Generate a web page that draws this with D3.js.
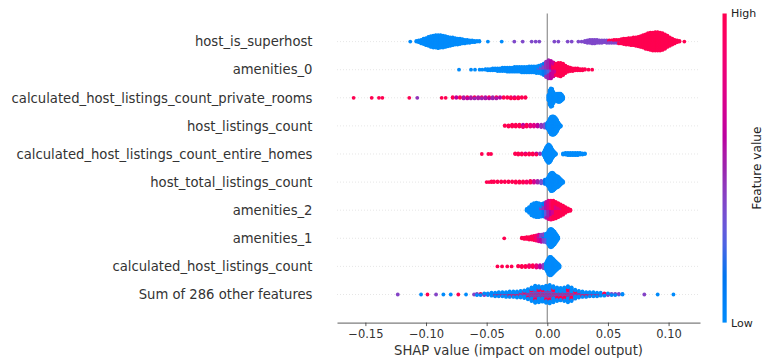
<!DOCTYPE html>
<html>
<head>
<meta charset="utf-8">
<script src="https://cdn.jsdelivr.net/npm/d3@7"></script>
<style>
  html, body { margin: 0; padding: 0; background: #fff; }
  svg { display: block; font-family: "DejaVu Sans", sans-serif; }
</style>
</head>
<body>
<svg id="chart" width="765" height="361"></svg>
<script>
// Feature rows, listed top to bottom
const featureNames = [
  "host_is_superhost",
  "amenities_0",
  "calculated_host_listings_count_private_rooms",
  "host_listings_count",
  "calculated_host_listings_count_entire_homes",
  "host_total_listings_count",
  "amenities_2",
  "amenities_1",
  "calculated_host_listings_count",
  "Sum of 286 other features"
];
const xTicks = [-0.15, -0.10, -0.05, 0.00, 0.05, 0.10];
const colorLabels = ["Low", "High"];
const axisTitle = "SHAP value (impact on model output)";
const colorTitle = "Feature value";

// Each entry: [SHAP value, number of samples at that value, feature value 0 (low) .. 1 (high)]
const hostIsSuperhost = [
  [-0.113,1,0],
  [-0.108,2,0],[-0.106,4,0],[-0.104,7,0],[-0.102,10,0],[-0.100,13,0],[-0.098,16,0],[-0.096,19,0],
  [-0.094,21,0],[-0.092,22,0],[-0.090,23,0],[-0.088,22,0],[-0.086,21,0],[-0.084,19,0],[-0.082,17,0],
  [-0.080,15,0],[-0.078,14,0],[-0.076,12,0],[-0.074,11,0],[-0.072,10,0],[-0.070,8,0],[-0.068,7,0],
  [-0.066,6,0],[-0.064,5,0],[-0.062,4,0],[-0.060,3,0],[-0.058,2,0],[-0.056,2,0],
  [-0.049,1,0],[-0.0376,1,0],
  [-0.0272,1,0.38],[-0.0203,1,0.38],[-0.0129,1,0.38],[-0.0096,1,0.38],[-0.0066,1,0.38],
  [0.0058,1,0.38],[0.0091,1,0.38],[0.0168,1,0.38],[0.0201,1,0.38],[0.0256,1,0.38],[0.0283,1,0.38],
  [0.031,3,0.38],[0.033,5,0.38],[0.035,6,0.38],[0.037,7,0.38],[0.039,7,0.38],[0.041,6,0.38],
  [0.043,5,0.38],[0.045,5,0.38],[0.047,4,0.38],[0.049,5,0.38],
  [0.051,3,0.38],[0.051,2,1],[0.053,3,0.38],[0.053,2,1],[0.055,3,0.38],[0.055,3,1],
  [0.057,3,0.38],[0.057,3,1],[0.059,3,0.38],[0.059,4,1],[0.061,2,0.38],[0.061,6,1],
  [0.063,10,1],[0.065,11,1],[0.067,12,1],[0.069,13,1],[0.071,14,1],[0.073,15,1],[0.075,17,1],
  [0.077,19,1],[0.079,22,1],[0.081,25,1],[0.083,28,1],[0.085,30,1],[0.087,31,1],[0.089,32,1],
  [0.091,32,1],[0.093,31,1],[0.095,29,1],[0.097,25,1],[0.099,20,1],[0.101,15,1],[0.103,11,1],
  [0.105,7,1],[0.107,4,1],[0.109,2,1],[0.113,1,1]
];

const amenities0 = [
  [-0.0728,1,0],[-0.0629,1,0],[-0.0596,1,0],[-0.0558,1,0],[-0.0536,1,0],
  [-0.051,2,0],[-0.049,3,0],[-0.047,3,0],[-0.045,4,0],[-0.043,4,0],[-0.041,5,0],[-0.039,5,0],
  [-0.037,6,0],[-0.035,6,0],[-0.033,7,0],[-0.031,7,0],[-0.029,7,0],[-0.027,8,0],[-0.025,8,0],
  [-0.023,8,0],[-0.021,9,0],[-0.019,9,0],[-0.017,9,0],[-0.015,10,0],[-0.013,10,0],[-0.011,10,0],
  [-0.009,11,0],
  [-0.007,9,0],[-0.007,3,0.35],
  [-0.005,9,0],[-0.005,5,0.35],
  [-0.003,10,0.1],[-0.003,8,0.4],
  [-0.001,10,0.2],[-0.001,14,0.45],
  [0.001,8,0.25],[0.001,20,0.5],
  [0.003,6,0.4],[0.003,21,0.6],
  [0.005,14,0.65],[0.005,8,1],
  [0.007,8,0.7],[0.007,10,1],
  [0.009,20,1],[0.011,21,1],[0.013,18,1],[0.015,12,1],[0.017,8,1],[0.019,6,1],[0.021,5,1],
  [0.023,4,1],[0.025,4,1],[0.027,3,1],[0.029,3,1],[0.031,2,1],[0.034,1,1],[0.037,1,1]
];

const calcPrivateRooms = [
  [-0.1597,1,1],[-0.1448,1,1],[-0.1388,1,1],[-0.1360,1,1],[-0.1138,1,1],[-0.1072,1,0.45],
  [-0.0871,1,1],[-0.0838,1,1],
  [-0.078,2,1],[-0.075,2,0.6],[-0.072,2,1],[-0.069,3,0.55],[-0.066,2,0.6],[-0.066,1,1],
  [-0.063,3,0.55],[-0.060,2,0.5],[-0.060,1,1],[-0.057,3,0.55],[-0.054,2,0.5],[-0.054,1,0.9],
  [-0.051,3,0.55],[-0.048,2,0.6],[-0.048,1,1],[-0.045,3,0.5],[-0.042,2,0.55],[-0.042,1,1],
  [-0.039,2,0.6],[-0.036,2,1],[-0.033,2,1],[-0.030,3,1],[-0.027,2,1],[-0.027,1,0.7],
  [-0.024,3,1],[-0.021,2,1],[-0.018,2,1],
  [0.001,10,0],[0.002,26,0],[0.003,32,0],[0.004,30,0],[0.005,20,0],[0.006,12,0],[0.007,12,0],
  [0.008,14,0],[0.009,15,0],[0.010,15,0],[0.011,14,0],[0.012,10,0],[0.013,5,0]
];

const hostListingsCount = [
  [-0.035,2,1],[-0.032,3,1],[-0.029,4,1],[-0.026,3,1],[-0.026,1,0.6],[-0.023,4,1],
  [-0.020,3,0.85],[-0.020,2,0.6],[-0.017,4,1],[-0.014,3,0.8],[-0.014,1,0.55],[-0.011,4,0.75],
  [-0.008,3,0.6],[-0.008,1,1],[-0.005,5,0.45],[-0.002,7,0.35],
  [0.000,10,0.1],[0.001,16,0],[0.002,24,0],[0.003,30,0],[0.004,32,0],[0.005,32,0],[0.006,30,0],
  [0.007,26,0],[0.008,20,0],[0.009,12,0],[0.010,6,0],[0.011,3,0]
];

const calcEntireHomes = [
  [-0.054,1,1],[-0.0486,1,1],[-0.0464,1,1],
  [-0.0265,2,1],[-0.024,3,1],[-0.021,3,1],[-0.018,2,1],[-0.018,1,0.7],[-0.015,3,1],[-0.012,3,1],
  [-0.009,2,1],[-0.009,1,0.6],[-0.006,2,0.45],
  [-0.003,6,0],[-0.002,14,0],[-0.001,22,0],[0.000,28,0],[0.001,32,0],[0.002,30,0],[0.003,24,0],
  [0.004,16,0],[0.005,10,0],[0.006,6,0],[0.007,3,0],
  [0.013,3,0],[0.015,4,0],[0.017,5,0],[0.019,5,0],[0.021,5,0],[0.023,5,0],[0.025,5,0],
  [0.027,4,0],[0.029,3,0],[0.031,2,0]
];

const hostTotalListingsCount = [
  [-0.050,1,1],[-0.048,1,1],[-0.046,2,1],[-0.044,2,1],[-0.041,2,1],[-0.038,2,1],[-0.035,2,1],
  [-0.032,2,1],[-0.029,2,1],[-0.026,3,1],[-0.023,3,1],[-0.020,3,1],[-0.017,3,0.9],
  [-0.014,3,1],[-0.014,1,0.6],[-0.011,3,0.7],[-0.011,1,1],[-0.008,4,0.5],[-0.005,4,0.35],
  [-0.005,1,0.8],[-0.002,8,0.15],
  [0.000,12,0],[0.001,18,0],[0.002,26,0],[0.003,31,0],[0.004,32,0],[0.005,30,0],[0.006,26,0],
  [0.007,22,0],[0.008,20,0],[0.009,18,0],[0.010,14,0],[0.011,10,0],[0.012,6,0],[0.013,3,0]
];

const amenities2 = [
  [-0.017,4,0],[-0.015,10,0],[-0.013,18,0],[-0.011,22,0],[-0.009,24,0],[-0.007,23,0],
  [-0.005,16,0],[-0.005,5,0.4],
  [-0.003,14,0.1],[-0.003,8,0.45],
  [-0.001,12,0.3],[-0.001,14,0.55],
  [0.001,14,0.5],[0.001,16,0.75],
  [0.003,12,0.6],[0.003,19,0.9],
  [0.005,10,0.7],[0.005,20,1],
  [0.007,18,1],[0.007,9,0.75],[0.009,16,1],[0.009,7,0.8],[0.011,14,1],[0.011,5,0.8],
  [0.013,15,1],[0.015,10,1],[0.017,6,1],[0.019,3,1]
];

const amenities1 = [
  [-0.0355,1,1],
  [-0.021,2,1],[-0.019,3,1],[-0.017,4,1],[-0.015,5,1],[-0.013,6,1],[-0.011,7,1],[-0.011,1,0.7],
  [-0.009,8,0.9],[-0.009,2,0.6],[-0.007,8,0.7],[-0.007,4,0.5],[-0.005,7,0.6],[-0.005,6,0.4],
  [-0.003,10,0.4],[-0.003,4,0.1],[-0.001,8,0.3],[-0.001,8,0],
  [0.001,24,0],[0.002,30,0],[0.003,32,0],[0.004,30,0],[0.005,26,0],[0.006,22,0],[0.007,16,0],
  [0.008,10,0],[0.009,4,0]
];

const calcHostListingsCount = [
  [-0.0411,1,1],[-0.0373,1,1],[-0.033,1,1],[-0.0294,1,1],
  [-0.024,2,1],[-0.021,3,1],[-0.018,3,1],[-0.015,3,0.9],[-0.015,1,0.6],[-0.012,4,1],
  [-0.009,4,0.8],[-0.009,1,1],[-0.006,5,0.6],[-0.003,7,0.4],
  [-0.001,12,0],[0.000,20,0],[0.001,28,0],[0.002,32,0],[0.003,32,0],[0.004,28,0],[0.005,24,0],
  [0.006,20,0],[0.007,16,0],[0.008,12,0],[0.009,8,0],[0.010,5,0]
];

const otherFeatures = [
  [-0.1233,1,0.4],[-0.1041,1,0],[-0.0988,1,1],[-0.0917,1,0.4],[-0.0857,1,0],[-0.0796,1,0],
  [-0.0734,1,1],[-0.067,1,0],[-0.0604,1,0.4],
  [-0.058,2,0],[-0.058,1,0.4],
  [-0.055,2,0],[-0.055,1,1],
  [-0.052,2,0],[-0.052,1,1],[-0.052,1,0.4],
  [-0.049,3,0],[-0.049,1,1],
  [-0.046,4,0],[-0.046,1,1],[-0.046,1,0.4],
  [-0.043,4,0],[-0.043,2,1],[-0.043,1,0.4],
  [-0.040,5,0],[-0.040,2,1],[-0.040,1,0.4],
  [-0.037,5,0],[-0.037,2,1],[-0.037,1,0.4],
  [-0.034,6,0],[-0.034,2,1],[-0.034,1,0.4],
  [-0.031,6,0],[-0.031,3,1],[-0.031,1,0.4],
  [-0.028,6,0],[-0.028,3,1],[-0.028,1,0.4],
  [-0.025,7,0],[-0.025,3,1],[-0.025,1,0.4],
  [-0.022,7,0],[-0.022,3,1],[-0.022,2,0.4],
  [-0.019,8,0],[-0.019,4,1],[-0.019,2,0.4],
  [-0.016,10,0],[-0.016,5,1],[-0.016,3,0.4],
  [-0.013,14,0],[-0.013,6,1],[-0.013,4,0.4],
  [-0.010,17,0],[-0.010,8,1],[-0.010,5,0.4],
  [-0.007,16,0],[-0.007,8,1],[-0.007,4,0.4],
  [-0.004,15,0],[-0.004,7,1],[-0.004,4,0.4],
  [-0.001,17,0],[-0.001,8,1],[-0.001,5,0.4],
  [0.002,18,0],[0.002,9,1],[0.002,5,0.4],
  [0.005,16,0],[0.005,8,1],[0.005,4,0.4],
  [0.008,14,0],[0.008,7,1],[0.008,3,0.4],
  [0.011,12,0],[0.011,7,1],[0.011,3,0.4],
  [0.014,13,0],[0.014,8,1],[0.014,3,0.4],
  [0.017,15,0],[0.017,9,1],[0.017,4,0.4],
  [0.020,13,0],[0.020,8,1],[0.020,3,0.4],
  [0.023,9,0],[0.023,5,1],[0.023,2,0.4],
  [0.026,7,0],[0.026,3,1],[0.026,2,0.4],
  [0.029,6,0],[0.029,3,1],[0.029,1,0.4],
  [0.032,5,0],[0.032,3,1],[0.032,1,0.4],
  [0.035,5,0],[0.035,2,1],[0.035,1,0.4],
  [0.038,5,0],[0.038,2,1],[0.038,1,0.4],
  [0.041,4,0],[0.041,2,1],[0.041,1,0.4],
  [0.044,4,0],[0.044,1,1],[0.044,1,0.4],
  [0.047,3,0],[0.047,2,1],
  [0.050,2,0],[0.050,1,1],[0.050,1,0.4],
  [0.053,2,0],[0.053,1,0.4],
  [0.056,2,0],[0.056,1,0.4],
  [0.059,1,0],[0.059,1,0.4],
  [0.062,2,0],
  [0.080,1,0.4],[0.091,1,0],[0.104,1,0]
];

const rowsData = [
  hostIsSuperhost, amenities0, calcPrivateRooms, hostListingsCount, calcEntireHomes,
  hostTotalListingsCount, amenities2, amenities1, calcHostListingsCount, otherFeatures
];

// ---- layout ----
const plot = { left: 337, right: 700, top: 13.5, bottom: 322.6 };
const nRows = featureNames.length;
const x = d3.scaleLinear().domain([-0.1734, 0.1259]).range([plot.left, plot.right]);
const y = d3.scaleLinear().domain([-1, nRows]).range([plot.bottom, plot.top]);
const textColor = "#333333";

// Blue-to-red colormap interpolated in LCH space (lightness dips in the middle)
function lch2rgb(L, C, h) {
  const a = C * Math.cos(h), b = C * Math.sin(h);
  const fy = (L + 16) / 116, fx = fy + a / 500, fz = fy - b / 200;
  const finv = t => (t ** 3 > 0.008856 ? t ** 3 : (t - 16 / 116) / 7.787);
  const X = 0.95047 * finv(fx), Y = 1.0 * finv(fy), Z = 1.08883 * finv(fz);
  const lin = [
    3.2406 * X - 1.5372 * Y - 0.4986 * Z,
    -0.9689 * X + 1.8758 * Y + 0.0415 * Z,
    0.0557 * X - 0.2040 * Y + 1.0570 * Z
  ];
  const g = v => {
    v = Math.max(0, Math.min(1, v));
    return v > 0.0031308 ? 1.055 * Math.pow(v, 1 / 2.4) - 0.055 : 12.92 * v;
  };
  return d3.rgb(...lin.map(v => Math.round(g(v) * 255)));
}
function redBlue(t) {
  t = Math.max(0, Math.min(1, t));
  const L = t < 0.5 ? 54 - 28 * t : 40 + 28 * (t - 0.5);
  const C = 70 + 20 * t;
  const h = 4.6588 + t * (0.35470565 + 2 * Math.PI - 4.6588);
  return lch2rgb(L, C, h).formatHex();
}

// Beeswarm: samples sharing a SHAP value are stacked alternately above and below the row
function swarm(entries) {
  const groups = d3.groups(entries, d => d[0].toFixed(4));
  const columns = groups.map(([, es]) => {
    const queues = es.map(e => d3.range(e[1]).map(() => e[2]));
    const vals = [];
    let more = true;
    while (more) {
      more = false;
      for (const q of queues) if (q.length) { vals.push(q.shift()); more = true; }
    }
    return { s: es[0][0], vals };
  }).sort((a, b) => a.s - b.s);
  const maxHalf = d3.max(columns, c => Math.ceil((c.vals.length - 1) / 2));
  const pts = [];
  columns.forEach(c => c.vals.forEach((v, layer) => {
    const k = Math.ceil(layer / 2) * ((layer % 2) * 2 - 1);
    pts.push({ s: c.s, v, off: 0.36 * k / (maxHalf + 1) });
  }));
  return pts;
}

const svg = d3.select("#chart");
svg.append("rect").attr("width", 765).attr("height", 361).attr("fill", "#fff");

// dotted row guides
svg.append("g").selectAll("line")
  .data(d3.range(nRows))
  .join("line")
  .attr("x1", plot.left).attr("x2", plot.right)
  .attr("y1", d => y(d)).attr("y2", d => y(d))
  .attr("stroke", "#cccccc").attr("stroke-width", 0.7)
  .attr("stroke-dasharray", "0.7,2.3");

// zero line
svg.append("line")
  .attr("x1", x(0)).attr("x2", x(0))
  .attr("y1", plot.top).attr("y2", plot.bottom)
  .attr("stroke", "#999999").attr("stroke-width", 1.3);

// points
const pointsG = svg.append("g");
rowsData.forEach((entries, i) => {
  const pos = nRows - 1 - i;
  pointsG.append("g").selectAll("circle")
    .data(swarm(entries))
    .join("circle")
    .attr("cx", d => x(d.s))
    .attr("cy", d => y(pos + d.off))
    .attr("r", 1.9)
    .attr("fill", d => redBlue(d.v));
});

// feature labels
svg.append("g").selectAll("text")
  .data(featureNames)
  .join("text")
  .attr("x", 312.5)
  .attr("y", (d, i) => y(nRows - 1 - i))
  .attr("dy", "0.36em")
  .attr("text-anchor", "end")
  .attr("font-size", 13.2)
  .attr("fill", textColor)
  .text(d => d);

// x axis
const axis = svg.append("g")
  .attr("transform", `translate(0,${plot.bottom})`)
  .call(d3.axisBottom(x).tickValues(xTicks).tickFormat(d3.format(".2f"))
    .tickSize(3.5).tickPadding(3.5).tickSizeOuter(0));
axis.attr("font-family", null).attr("font-size", null);
axis.select(".domain").attr("stroke", textColor).attr("stroke-width", 0.8);
axis.selectAll(".tick line").attr("stroke", textColor).attr("stroke-width", 0.8);
axis.selectAll(".tick text").attr("fill", textColor).attr("font-size", 11.5);

svg.append("text")
  .attr("x", (plot.left + plot.right) / 2)
  .attr("y", 355)
  .attr("text-anchor", "middle")
  .attr("font-size", 13.2)
  .attr("fill", textColor)
  .text(axisTitle);

// colour bar
const defs = svg.append("defs");
const grad = defs.append("linearGradient")
  .attr("id", "cbar").attr("x1", 0).attr("y1", 1).attr("x2", 0).attr("y2", 0);
d3.range(0, 1.0001, 0.05).forEach(t => {
  grad.append("stop").attr("offset", t).attr("stop-color", redBlue(t));
});
svg.append("rect")
  .attr("x", 722.5).attr("y", plot.top)
  .attr("width", 4.2).attr("height", plot.bottom - plot.top)
  .attr("fill", "url(#cbar)");

svg.append("g").selectAll("text")
  .data(colorLabels)
  .join("text")
  .attr("x", 731)
  .attr("y", (d, i) => (i === 0 ? plot.bottom : plot.top))
  .attr("dy", "0.36em")
  .attr("font-size", 11)
  .attr("fill", "#222")
  .text(d => d);

svg.append("text")
  .attr("transform", `translate(756.5,${(plot.top + plot.bottom) / 2}) rotate(-90)`)
  .attr("text-anchor", "middle")
  .attr("dy", "0.36em")
  .attr("font-size", 12.2)
  .attr("fill", "#222")
  .text(colorTitle);
</script>
</body>
</html>
